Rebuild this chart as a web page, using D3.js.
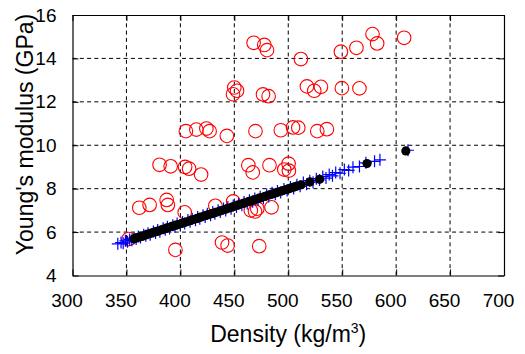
<!DOCTYPE html>
<html>
<head>
<meta charset="utf-8">
<script src="https://cdn.jsdelivr.net/npm/d3@7"></script>
<style>
  body { margin: 0; background: #fff; }
  svg { display: block; font-family: "Liberation Sans", Arial, sans-serif; }
</style>
</head>
<body>
<div id="plotContainer"></div>
<script>
// measured samples (red circles)
const measDensity = [467.9, 477.8, 480.3, 511.7, 548.8, 563.2, 578.1, 582.4, 607.4,
  450, 452.5, 448.8, 476.6, 481.8, 517.3, 524.1, 530.3, 549.7, 566,
  405.1, 414.8, 424.1, 427.1, 443.1, 469.6, 493.1, 504.4, 509.3, 526.9, 535.8,
  380.7, 391, 404.4, 408.1, 419.2, 463, 467.1, 482.6, 496.3, 500.3, 500.6,
  361.9, 371.5, 387.3, 388.4, 404, 432.4, 448.9, 465.3, 469.2, 471.3, 484.5,
  395.4, 438.6, 443.8, 473.1, 352.1];
const measModulus = [14.72, 14.62, 14.38, 13.97, 14.31, 14.49, 15.12, 14.69, 14.95,
  12.66, 12.51, 12.35, 12.34, 12.26, 12.71, 12.51, 12.69, 12.63, 12.62,
  10.65, 10.72, 10.77, 10.65, 10.43, 10.65, 10.69, 10.82, 10.81, 10.65, 10.74,
  9.10, 9.03, 9.00, 8.92, 8.65, 9.08, 8.75, 9.08, 8.88, 9.15, 8.83,
  7.12, 7.25, 7.48, 7.25, 6.91, 7.21, 7.41, 7.00, 6.95, 7.08, 7.14,
  5.18, 5.52, 5.38, 5.35, 5.68];

// predicted values (blue plus)
const predDensity = [342, 345, 347, 349, 351, 353, 355, 357, 359, 361, 363, 366, 368, 370, 372,
  375, 377, 379, 381, 384, 386, 388, 390, 393, 395, 397, 400, 402, 404, 407, 409, 411,
  414, 416, 418, 421, 423, 425, 428, 430, 432, 435, 437, 440, 442, 444, 447, 449, 452,
  454, 457, 459, 462, 464, 467, 469, 472, 474, 477, 480, 482, 485, 488, 490, 493, 496,
  499, 502, 505, 508, 511, 514, 517, 520, 523, 526, 529, 532, 535, 538, 541, 544, 548,
  552, 556, 560, 566, 572, 580, 585, 611];
const predModulus = [5.46, 5.52, 5.49, 5.60, 5.55, 5.66, 5.62, 5.72, 5.68, 5.80, 5.75, 5.88, 5.83, 5.95, 5.88,
  6.03, 5.96, 6.10, 6.02, 6.18, 6.11, 6.25, 6.17, 6.32, 6.25, 6.39, 6.33, 6.47, 6.40, 6.56, 6.48, 6.61,
  6.55, 6.70, 6.61, 6.78, 6.70, 6.85, 6.77, 6.93, 6.85, 7.01, 6.92, 7.09, 7.00, 7.15, 7.08, 7.23, 7.16,
  7.31, 7.24, 7.39, 7.32, 7.47, 7.40, 7.55, 7.48, 7.63, 7.56, 7.73, 7.64, 7.81, 7.74, 7.89, 7.82, 7.99,
  7.91, 8.08, 8.01, 8.18, 8.11, 8.28, 8.20, 8.37, 8.30, 8.46, 8.40, 8.56, 8.49, 8.65, 8.59, 8.74, 8.71,
  8.88, 8.84, 8.99, 9.02, 9.19, 9.26, 9.33, 9.77];

// fitted values (black dots)
const fitDensity = [357, 359, 361, 363, 365, 367, 369, 372, 374, 376, 378, 380, 383, 385, 387, 389,
  392, 394, 396, 398, 401, 403, 405, 408, 410, 412, 415, 417, 419, 422, 424, 426, 429, 431,
  433, 436, 438, 441, 443, 445, 448, 450, 453, 455, 458, 460, 463, 465, 468, 470, 473, 475,
  478, 480, 483, 485, 488, 490, 493, 495, 498, 500, 503, 505, 508, 512, 520, 529, 573, 609];
const fitModulus = [5.69, 5.73, 5.76, 5.79, 5.82, 5.85, 5.89, 5.93, 5.97, 6.00, 6.03, 6.06, 6.11, 6.14, 6.18, 6.21,
  6.26, 6.29, 6.32, 6.35, 6.40, 6.43, 6.46, 6.51, 6.54, 6.58, 6.62, 6.66, 6.69, 6.74, 6.77, 6.80, 6.85, 6.88,
  6.91, 6.96, 6.99, 7.04, 7.07, 7.11, 7.15, 7.19, 7.24, 7.27, 7.32, 7.35, 7.40, 7.43, 7.48, 7.51, 7.56, 7.59,
  7.64, 7.67, 7.72, 7.75, 7.80, 7.83, 7.88, 7.91, 7.96, 7.99, 8.04, 8.07, 8.12, 8.18, 8.31, 8.43, 9.16, 9.74];

const xTicks = [300, 350, 400, 450, 500, 550, 600, 650, 700];
const yTicks = [4, 6, 8, 10, 12, 14, 16];

const svgWidth = 525, svgHeight = 354;
const margin = {top: 15, right: 21, bottom: 78.5, left: 72.5};
const width = svgWidth - margin.left - margin.right;
const height = svgHeight - margin.top - margin.bottom;

const x = d3.scaleLinear().domain([300, 700]).range([0, width]);
const y = d3.scaleLinear().domain([4, 16]).range([height, 0]);

const svg = d3.select("#plotContainer").append("svg")
  .attr("width", svgWidth)
  .attr("height", svgHeight);

const main = svg.append("g")
  .attr("transform", "translate(" + margin.left + "," + margin.top + ")");

// grid (dashed)
main.append("g").selectAll("line.gx")
  .data(xTicks.slice(1, -1)).enter().append("line")
  .attr("x1", d => x(d)).attr("x2", d => x(d))
  .attr("y1", height).attr("y2", 0)
  .attr("stroke", "#000").attr("stroke-width", 1)
  .attr("stroke-dasharray", "4,3.3");
main.append("g").selectAll("line.gy")
  .data(yTicks.slice(1, -1)).enter().append("line")
  .attr("x1", 0).attr("x2", width)
  .attr("y1", d => y(d)).attr("y2", d => y(d))
  .attr("stroke", "#000").attr("stroke-width", 1)
  .attr("stroke-dasharray", "4,3.3");

// measured
main.append("g").selectAll("circle")
  .data(d3.zip(measDensity, measModulus)).enter().append("circle")
  .attr("cx", d => x(d[0])).attr("cy", d => y(d[1]))
  .attr("r", 6.8)
  .attr("fill", "none").attr("stroke", "#f00").attr("stroke-width", 1.1);

// predicted: plus markers
main.append("g").selectAll("path")
  .data(d3.zip(predDensity, predModulus)).enter().append("path")
  .attr("transform", d => "translate(" + x(d[0]) + "," + y(d[1]) + ")")
  .attr("d", "M-6,0H6M0,-6V6")
  .attr("stroke", "#00f").attr("stroke-width", 1.2).attr("fill", "none");

// fitted: filled dots
main.append("g").selectAll("circle")
  .data(d3.zip(fitDensity, fitModulus)).enter().append("circle")
  .attr("cx", d => x(d[0])).attr("cy", d => y(d[1]))
  .attr("r", 4.6)
  .attr("fill", "#000");

// axes: box with inward ticks on all sides
const tickLen = 6;
main.append("g").attr("transform", "translate(0," + height + ")")
  .call(d3.axisBottom(x).tickValues(xTicks).tickSizeInner(-tickLen).tickSizeOuter(0).tickPadding(18))
  .call(g => g.selectAll("text").attr("dx", -6));
main.append("g")
  .call(d3.axisTop(x).tickValues(xTicks).tickSizeInner(-tickLen).tickSizeOuter(0).tickFormat(""));
main.append("g")
  .call(d3.axisLeft(y).tickValues(yTicks).tickSizeInner(-tickLen).tickSizeOuter(0).tickPadding(16));
main.append("g").attr("transform", "translate(" + width + ",0)")
  .call(d3.axisRight(y).tickValues(yTicks).tickSizeInner(-tickLen).tickSizeOuter(0).tickFormat(""));

main.selectAll(".domain").attr("stroke", "#000").attr("stroke-width", 1.2);
main.selectAll(".tick line").attr("stroke", "#000").attr("stroke-width", 1);
main.selectAll(".tick text")
  .attr("fill", "#000")
  .style("font-size", "19px")
  .style("font-family", "'Liberation Sans', Arial, sans-serif");

// axis titles
const xLabel = svg.append("text")
  .attr("x", margin.left + width / 2)
  .attr("y", 342)
  .attr("text-anchor", "middle")
  .style("font-size", "23px");
xLabel.append("tspan").text("Density (kg/m");
xLabel.append("tspan").attr("dy", -9).style("font-size", "14px").text("3");
xLabel.append("tspan").attr("dy", 9).text(")");

svg.append("text")
  .attr("transform", "translate(33," + 134.5 + ") rotate(-90)")
  .attr("text-anchor", "middle")
  .style("font-size", "23px")
  .text("Young's modulus (GPa)");
</script>
</body>
</html>
